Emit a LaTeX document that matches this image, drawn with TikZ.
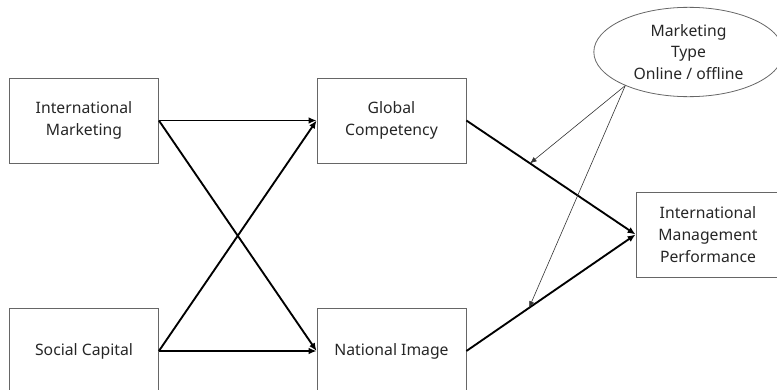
\documentclass[tikz,border=0pt]{standalone}
\usepackage{fontspec}
\setmainfont{Noto Sans}
\usetikzlibrary{arrows.meta,shapes.geometric}
\begin{document}
\begin{tikzpicture}[x=0.75pt,y=-0.75pt,
  txt/.style={font=\fontsize{11.8pt}{16.3pt}\selectfont,text=black!85},
  box/.style={txt,draw=black!60,line width=0.6pt,minimum width=111.75pt,minimum height=63.75pt,inner sep=0pt,align=center},
  thickarrow/.style={line width=1.4pt,-{Latex[length=6pt,width=5pt]}},
  thinarrow/.style={line width=0.45pt,draw=black!80,-{Latex[length=5pt,width=4pt]}}]
\useasboundingbox (0,0) rectangle (777,389);
\begin{scope}
\clip (0,0) rectangle (777,389);
\node[box] (im) at (84,120.5) {International\\Marketing};
\node[box] (sc) at (84,351) {Social Capital};
\node[box] (gc) at (391.5,120.5) {Global\\Competency};
\node[box] (ni) at (391.5,351) {National Image};
\node[box,minimum width=108pt] (imp) at (708,234.5) {International\\Management\\Performance};
\node[txt,ellipse,draw=black!60,line width=0.6pt,minimum width=142pt,minimum height=67pt,inner sep=0pt,align=center] (mt) at (688.5,52) {Marketing\\Type\\Online / offline};
\end{scope}
\draw[thickarrow] (im.east) -- (gc.west);
\draw[thickarrow] (im.east) -- (ni.west);
\draw[thickarrow] (sc.east) -- (gc.west);
\draw[thickarrow] (sc.east) -- (ni.west);
\draw[thickarrow] (gc.east) -- coordinate[pos=0.376] (p1) (imp.west);
\draw[thickarrow] (ni.east) -- coordinate[pos=0.37] (p2) (imp.west);
\draw[thinarrow] (mt.208) -- (p1);
\draw[thinarrow] (mt.208) -- (p2);
\end{tikzpicture}
\end{document}
